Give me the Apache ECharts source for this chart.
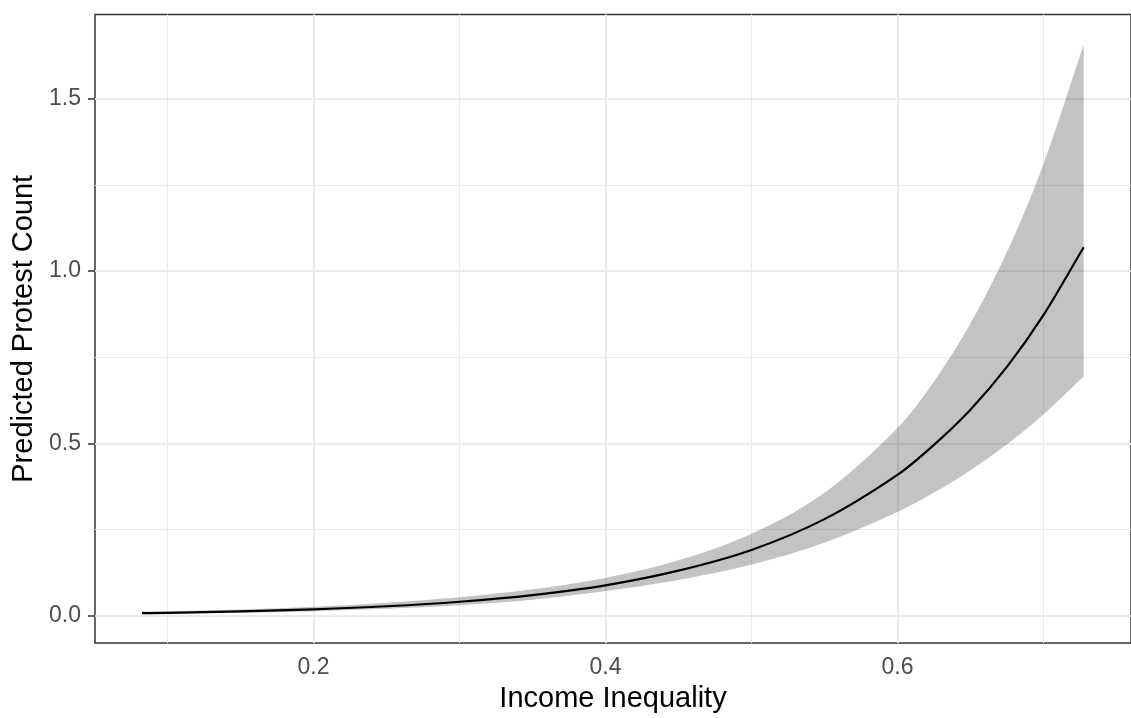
<!DOCTYPE html>
<html>
<head>
<meta charset="utf-8">
<script src="https://cdn.jsdelivr.net/npm/echarts@6/dist/echarts.min.js"></script>
<style>
  html, body { margin: 0; padding: 0; background: #ffffff; }
  #chart { width: 1131px; height: 718px; }
</style>
</head>
<body>
<div id="chart"></div>
<script>
// ---- Data ----
const incomeInequality = [0.0825, 0.1, 0.15, 0.2, 0.25, 0.3, 0.35, 0.4, 0.45, 0.5, 0.55, 0.6, 0.625, 0.65, 0.675, 0.7, 0.7276];
const predictedCount   = [0.0078, 0.0088, 0.0129, 0.019, 0.0279, 0.041, 0.0602, 0.0885, 0.131, 0.191, 0.2805, 0.409, 0.496, 0.598, 0.722, 0.872, 1.069];
const lowerCI          = [0.0048, 0.0058, 0.0088, 0.0135, 0.0203, 0.031, 0.0468, 0.072, 0.1038, 0.1488, 0.2122, 0.3012, 0.3574, 0.4225, 0.4976, 0.584, 0.694];
const upperCI          = [0.0125, 0.0135, 0.0188, 0.0265, 0.0378, 0.054, 0.077, 0.110, 0.161, 0.238, 0.357, 0.545, 0.680, 0.848, 1.055, 1.310, 1.657];

const xMajorTicks = [0.2, 0.4, 0.6];
const xMinorTicks = [0.1, 0.3, 0.5, 0.7];
const yMajorTicks = [0.0, 0.5, 1.0, 1.5];
const yMinorTicks = [0.25, 0.75, 1.25];

const xTitle = 'Income Inequality';
const yTitle = 'Predicted Protest Count';

// ---- Build series data ----
const linePts = incomeInequality.map((x, i) => [x, predictedCount[i]]);

const gridColor = '#EBEBEB';
const gridLines = []
  .concat(xMajorTicks.map(v => ({ xAxis: v, lineStyle: { width: 2, color: gridColor, type: 'solid' } })))
  .concat(xMinorTicks.map(v => ({ xAxis: v, lineStyle: { width: 1, color: gridColor, type: 'solid' } })))
  .concat(yMajorTicks.map(v => ({ yAxis: v, lineStyle: { width: 2, color: gridColor, type: 'solid' } })))
  .concat(yMinorTicks.map(v => ({ yAxis: v, lineStyle: { width: 1, color: gridColor, type: 'solid' } })));

// Cubic Hermite (x-parametrised, non-uniform spacing) -> Bezier path segments through pixel points
function smoothSegments(pts) {
  const n = pts.length;
  const m = pts.map((p, i) => {
    const a = pts[Math.max(0, i - 1)], b = pts[Math.min(n - 1, i + 1)];
    return (b[1] - a[1]) / (b[0] - a[0]);
  });
  let d = '';
  for (let i = 0; i < n - 1; i++) {
    const p1 = pts[i], p2 = pts[i + 1];
    const h = p2[0] - p1[0];
    const c1x = p1[0] + h / 3, c1y = p1[1] + m[i] * h / 3;
    const c2x = p2[0] - h / 3, c2y = p2[1] - m[i + 1] * h / 3;
    d += ' C' + c1x + ',' + c1y + ' ' + c2x + ',' + c2y + ' ' + p2[0] + ',' + p2[1];
  }
  return d;
}

function renderBand(params, api) {
  const up = incomeInequality.map((x, i) => api.coord([x, upperCI[i]]));
  const lo = incomeInequality.map((x, i) => api.coord([x, lowerCI[i]])).reverse();
  let d = 'M' + up[0][0] + ',' + up[0][1] + smoothSegments(up);
  d += ' L' + lo[0][0] + ',' + lo[0][1] + smoothSegments(lo) + ' Z';
  return {
    type: 'path',
    shape: { pathData: d },
    style: { fill: 'rgba(0,0,0,0.235)', stroke: null }
  };
}

function renderLine(params, api) {
  const pts = incomeInequality.map((x, i) => api.coord([x, predictedCount[i]]));
  const d = 'M' + pts[0][0] + ',' + pts[0][1] + smoothSegments(pts);
  return {
    type: 'path',
    shape: { pathData: d },
    style: { fill: null, stroke: '#000000', lineWidth: 2.2, lineJoin: 'round' }
  };
}

const FONT = '"Liberation Sans", Arial, Helvetica, sans-serif';

const chart = echarts.init(document.getElementById('chart'), null, { renderer: 'canvas' });
chart.setOption({
  backgroundColor: '#ffffff',
  animation: false,
  textStyle: { fontFamily: FONT },
  grid: {
    left: 95, top: 14.5, right: -5.3, bottom: 72.3,
    show: true, borderColor: '#333333', borderWidth: 1.5, backgroundColor: '#ffffff'
  },
  xAxis: {
    type: 'value',
    min: 0.0503, max: 0.760,
    name: xTitle,
    nameLocation: 'middle',
    nameGap: 40,
    nameTextStyle: { color: '#000000', fontSize: 29, fontFamily: FONT },
    axisLine: { show: false },
    splitLine: { show: false },
    axisTick: { show: true, customValues: xMajorTicks, length: 7, lineStyle: { color: '#333333', width: 1.5 } },
    axisLabel: {
      show: true, customValues: xMajorTicks, margin: 13,
      color: '#4D4D4D', fontSize: 23, fontFamily: FONT,
      formatter: v => Number(v).toFixed(1)
    }
  },
  yAxis: {
    type: 'value',
    min: -0.079, max: 1.744,
    name: yTitle,
    nameLocation: 'middle',
    nameGap: 54,
    nameRotate: 90,
    nameTextStyle: { color: '#000000', fontSize: 29, fontFamily: FONT },
    axisLine: { show: false },
    splitLine: { show: false },
    axisTick: { show: true, customValues: yMajorTicks, length: 7, lineStyle: { color: '#333333', width: 1.5 } },
    axisLabel: {
      show: true, customValues: yMajorTicks, margin: 14,
      color: '#4D4D4D', fontSize: 23, fontFamily: FONT,
      formatter: v => Number(v).toFixed(1)
    }
  },
  series: [
    {
      name: 'gridlines',
      type: 'line',
      data: linePts,
      symbol: 'none',
      lineStyle: { opacity: 0, width: 0 },
      silent: true,
      z: 1,
      markLine: {
        silent: true,
        z: 1,
        symbol: ['none', 'none'],
        label: { show: false },
        emphasis: { disabled: true },
        animation: false,
        data: gridLines
      }
    },
    {
      name: 'confidence band',
      type: 'custom',
      coordinateSystem: 'cartesian2d',
      data: [[incomeInequality[0], lowerCI[0]]],
      renderItem: renderBand,
      silent: true,
      z: 2
    },
    {
      name: 'predicted',
      type: 'custom',
      coordinateSystem: 'cartesian2d',
      data: [[incomeInequality[0], predictedCount[0]]],
      renderItem: renderLine,
      silent: true,
      z: 3
    }
  ]
});
</script>
</body>
</html>
